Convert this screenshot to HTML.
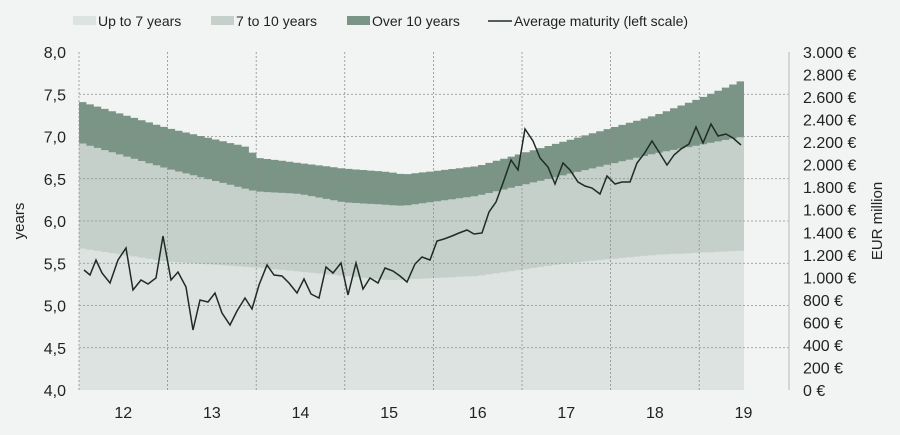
<!DOCTYPE html>
<html><head><meta charset="utf-8"><style>
body{margin:0;background:#f2f4f3;}
svg{display:block;font-family:"Liberation Sans",sans-serif;}
</style></head><body>
<svg id="s" width="900" height="435" xmlns="http://www.w3.org/2000/svg">
<rect width="900" height="435" fill="#f2f4f3"/>
<g id="bands"></g>
<g stroke="#8a8f8c" stroke-width="0.8" stroke-dasharray="2,2" id="grid"></g>
<line x1="789" y1="52" x2="789" y2="390" stroke="#c8cbc9" stroke-width="1.5"/>
<polyline id="ln" fill="none" stroke="#1f2b25" stroke-width="1.5"/>
<g font-size="16" fill="#222" id="lab"></g>
<g font-size="14" fill="#222">
<rect x="73" y="16" width="23" height="9" fill="#dde3e0"/><text x="98" y="26">Up to 7 years</text>
<rect x="211" y="16" width="23" height="9" fill="#c5d0cb"/><text x="236" y="26">7 to 10 years</text>
<rect x="347" y="16" width="23" height="9" fill="#7a9486"/><text x="372" y="26">Over 10 years</text>
<line x1="488" y1="21" x2="512" y2="21" stroke="#1f2b25" stroke-width="1.5"/><text x="514" y="26">Average maturity (left scale)</text>
<text transform="translate(24,221) rotate(-90)" text-anchor="middle" font-size="15">years</text>
<text transform="translate(882,221) rotate(-90)" text-anchor="middle" font-size="15">EUR million</text>
</g>
</svg>
<script>
var NS="http://www.w3.org/2000/svg";
function Y(v){return 390-(v-4)*84.5;}
function interp(k,m){for(var i=0;i<k.length-1;i++){if(m>=k[i][0]&&m<=k[i+1][0]){var a=k[i],b=k[i+1];return a[1]+(b[1]-a[1])*(m-a[0])/(b[0]-a[0]);}}return k[k.length-1][1];}
var L=[[0,5.68],[12,5.52],[24,5.45],[36,5.35],[42,5.3],[54,5.35],[66,5.5],[78,5.6],[90,5.65]];
var M=[[0,6.93],[12,6.62],[24,6.35],[30,6.32],[36,6.22],[44,6.18],[54,6.3],[66,6.55],[78,6.8],[90,7.0]];
var D=[[0,7.42],[12,7.1],[23,6.87],[24,6.75],[36,6.62],[42,6.58],[44,6.55],[54,6.65],[66,6.95],[78,7.25],[84,7.45],[90,7.67]];
var w=665/90;
function band(k,col){var d="M79,390";for(var m=0;m<90;m++){var y=Y(interp(k,m+0.5));d+=" L"+(79+m*w).toFixed(1)+","+y.toFixed(1)+" L"+(79+(m+1)*w).toFixed(1)+","+y.toFixed(1);}d+=" L744,390 Z";var p=document.createElementNS(NS,"path");p.setAttribute("d",d);p.setAttribute("fill",col);document.getElementById("bands").appendChild(p);}
band(D,"#7a9486");band(M,"#c5d0cb");band(L,"#dde3e0");
var g=document.getElementById("grid");
function line(x1,y1,x2,y2){var l=document.createElementNS(NS,"line");l.setAttribute("x1",x1);l.setAttribute("y1",y1);l.setAttribute("x2",x2);l.setAttribute("y2",y2);g.appendChild(l);}
for(var i=1;i<8;i++){var yy=Y(4+i*0.5);line(79,yy,789,yy);}
for(var i=1;i<8;i++){var x=79+i*88.6;line(x,52,x,390);}
line(79,52,79,390);
var lab=document.getElementById("lab");
function txt(x,y,s,a){var t=document.createElementNS(NS,"text");t.setAttribute("x",x);t.setAttribute("y",y);t.setAttribute("text-anchor",a);t.textContent=s;lab.appendChild(t);}
for(var i=0;i<=8;i++){var v=4+i*0.5;txt(66,Y(v)+6,v.toFixed(1).replace(".",","),"end");}
for(var i=0;i<=15;i++){var v=i*200;var s=v>=1000?Math.floor(v/1000)+"."+String(v%1000).padStart(3,"0"):String(v);txt(803,390-i*338/15+6,s+" €","start");}
for(var i=0;i<8;i++){txt(79+i*88.6+44.3,418,String(12+i),"middle");}
var pts="84,270 90,275 96,260 102,273 110,283 118,260 126,248 133,290 141,280 148,284 156,278 163,236 171,280 178,272 186,287 193,330 200,300 208,302 215,293 222,313 230,325 237,311 245,298 252,309 259,285 267,265 274,275 282,276 289,283 297,293 304,279 311,294 319,298 326,267 333,273 341,263 348,295 356,263 363,289 370,278 378,283 385,268 393,271 400,276 407,282 415,264 422,257 430,260 437,241 444,239 452,236 459,233 467,230 474,234 482,233 489,212 496,202 503,183 511,160 518,170 525,129 533,141 540,158 548,167 555,184 563,163 570,170 578,182 585,186 592,188 600,194 607,176 615,184 622,182 630,182 637,163 644,154 652,141 659,152 667,165 674,155 681,149 689,144 696,127 703,143 711,124 718,136 726,134 733,138 741,145";
document.getElementById("ln").setAttribute("points",pts);
</script>
</body></html>
